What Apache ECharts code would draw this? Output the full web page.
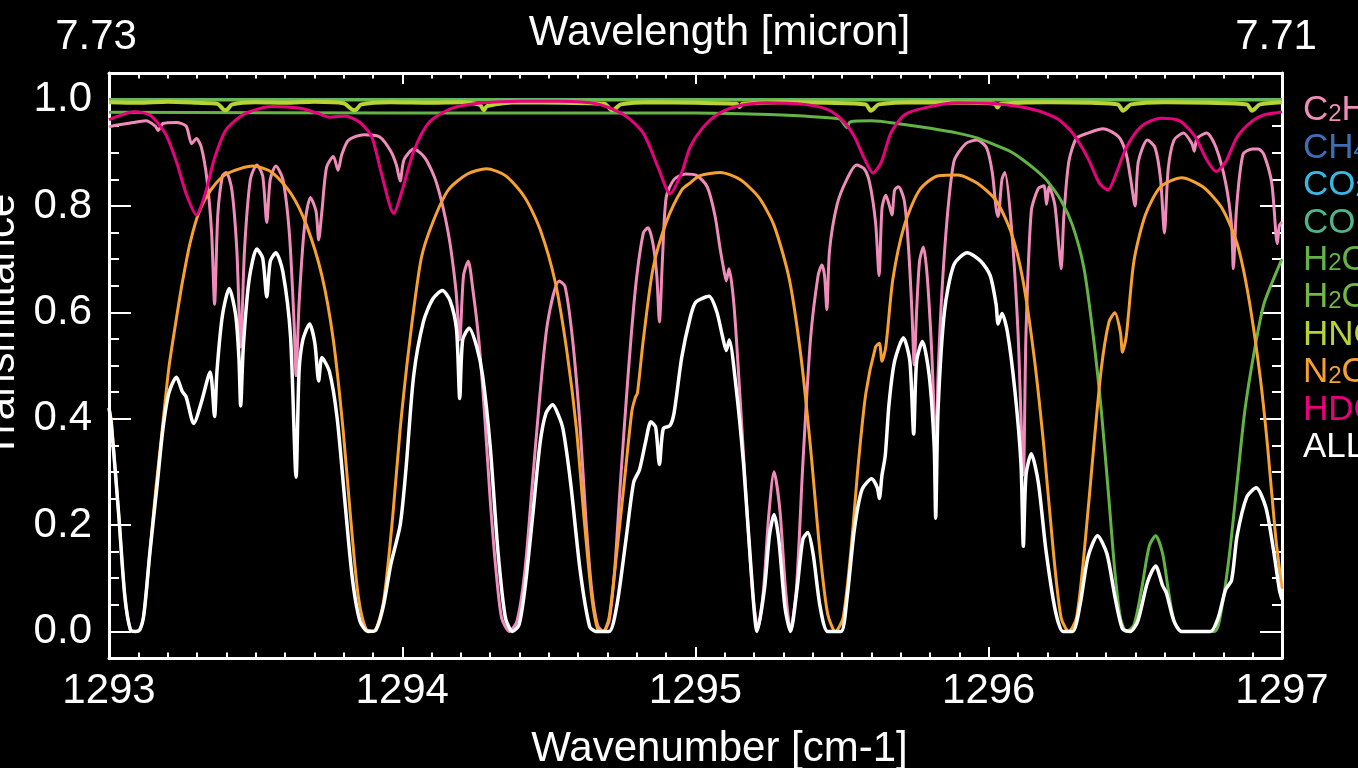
<!DOCTYPE html>
<html>
<head>
<meta charset="utf-8">
<title>Transmittance 1293–1297 cm-1</title>
<script src="https://cdn.jsdelivr.net/npm/echarts@6/dist/echarts.min.js"></script>
<style>
  html, body { margin: 0; padding: 0; background: #000; }
  #chart { width: 1358px; height: 768px; }
</style>
</head>
<body>
<div id="chart"></div>
<script>
// Species shown in the legend, top to bottom (also the drawing order).
const species = ['C2H6', 'CH4', 'CO2', 'CO', 'H2O', 'H2O2', 'HNO3', 'N2O', 'HDO', 'ALL'];
const speciesColors = ['#f08cba', '#3d6eb4', '#36b9e3', '#4fb38c', '#64b445', '#72b843', '#b9d336', '#f7a131', '#e8007f', '#ffffff'];

// Axis ticks
const yLabelValues = [0.0, 0.2, 0.4, 0.6, 0.8, 1.0];
const yMinorValues = [0.0, 0.05, 0.1, 0.15, 0.2, 0.25, 0.3, 0.35, 0.4, 0.45, 0.5, 0.55, 0.6, 0.65, 0.7, 0.75, 0.8, 0.85, 0.9, 0.95, 1.0];
const wavelengthEnds = { 1293: '{lo|7.73}', 1297: '{hi|7.71}' };

// Transmittance spectra: [wavenumber cm-1, transmittance]
const c2h6 = [
  [1293.000,0.948],[1293.008,0.950],[1293.073,0.956],[1293.126,0.960],[1293.158,0.950],[1293.167,0.942],
  [1293.184,0.955],[1293.230,0.957],[1293.263,0.950],[1293.282,0.917],[1293.298,0.927],[1293.315,0.910],
  [1293.334,0.850],[1293.350,0.749],[1293.360,0.615],[1293.371,0.783],[1293.387,0.857],[1293.400,0.863],
  [1293.419,0.830],[1293.436,0.716],[1293.449,0.535],[1293.462,0.716],[1293.482,0.850],[1293.504,0.877],
  [1293.524,0.857],[1293.538,0.769],[1293.550,0.850],[1293.569,0.875],[1293.593,0.850],[1293.615,0.749],
  [1293.631,0.582],[1293.638,0.481],[1293.648,0.615],[1293.667,0.763],[1293.687,0.816],[1293.706,0.790],
  [1293.715,0.736],[1293.726,0.790],[1293.742,0.873],[1293.765,0.893],[1293.781,0.867],[1293.794,0.897],
  [1293.817,0.924],[1293.869,0.934],[1293.922,0.930],[1293.961,0.903],[1293.980,0.877],[1293.993,0.847],
  [1294.006,0.887],[1294.039,0.907],[1294.078,0.890],[1294.117,0.843],[1294.157,0.749],[1294.183,0.642],
  [1294.196,0.548],[1294.209,0.669],[1294.225,0.696],[1294.241,0.642],[1294.261,0.548],[1294.280,0.414],
  [1294.300,0.247],[1294.320,0.113],[1294.339,0.025],[1294.365,0.000],[1294.391,0.019],[1294.418,0.113],
  [1294.444,0.280],[1294.470,0.448],[1294.496,0.582],[1294.535,0.659],[1294.555,0.649],[1294.581,0.548],
  [1294.607,0.381],[1294.626,0.213],[1294.646,0.079],[1294.666,0.012],[1294.685,0.000],[1294.705,0.019],
  [1294.724,0.113],[1294.744,0.280],[1294.770,0.481],[1294.796,0.649],[1294.822,0.749],[1294.838,0.759],
  [1294.855,0.729],[1294.868,0.669],[1294.877,0.582],[1294.887,0.696],[1294.900,0.816],[1294.927,0.850],
  [1294.966,0.860],[1295.005,0.857],[1295.040,0.836],[1295.066,0.783],[1295.085,0.716],[1295.098,0.676],
  [1295.105,0.659],[1295.114,0.682],[1295.131,0.615],[1295.151,0.448],[1295.177,0.213],[1295.196,0.066],
  [1295.213,0.005],[1295.232,0.079],[1295.249,0.213],[1295.268,0.300],[1295.288,0.227],[1295.307,0.079],
  [1295.324,0.002],[1295.344,0.079],[1295.366,0.314],[1295.392,0.548],[1295.418,0.669],[1295.431,0.689],
  [1295.440,0.669],[1295.448,0.605],[1295.457,0.716],[1295.483,0.803],[1295.516,0.850],[1295.549,0.877],
  [1295.575,0.870],[1295.594,0.843],[1295.614,0.769],[1295.626,0.669],[1295.636,0.796],[1295.649,0.820],
  [1295.660,0.803],[1295.670,0.783],[1295.679,0.830],[1295.692,0.836],[1295.712,0.810],[1295.727,0.716],
  [1295.738,0.602],[1295.746,0.501],[1295.754,0.602],[1295.764,0.696],[1295.777,0.723],[1295.790,0.669],
  [1295.806,0.520],[1295.814,0.400],[1295.819,0.260],[1295.827,0.480],[1295.850,0.720],[1295.881,0.883],
  [1295.921,0.917],[1295.960,0.924],[1295.992,0.910],[1296.012,0.863],[1296.025,0.796],[1296.032,0.780],
  [1296.045,0.850],[1296.055,0.863],[1296.077,0.763],[1296.100,0.560],[1296.118,0.294],[1296.127,0.560],
  [1296.145,0.790],[1296.169,0.833],[1296.188,0.838],[1296.197,0.803],[1296.206,0.836],[1296.225,0.803],
  [1296.238,0.730],[1296.247,0.682],[1296.256,0.780],[1296.273,0.883],[1296.299,0.927],[1296.338,0.937],
  [1296.390,0.945],[1296.443,0.930],[1296.469,0.897],[1296.484,0.850],[1296.499,0.800],[1296.510,0.883],
  [1296.541,0.924],[1296.567,0.910],[1296.586,0.850],[1296.599,0.749],[1296.612,0.870],[1296.632,0.924],
  [1296.664,0.937],[1296.693,0.917],[1296.701,0.903],[1296.710,0.927],[1296.743,0.937],[1296.775,0.910],
  [1296.808,0.843],[1296.828,0.763],[1296.834,0.682],[1296.845,0.796],[1296.867,0.897],[1296.899,0.907],
  [1296.919,0.907],[1296.938,0.897],[1296.965,0.843],[1296.984,0.729],[1296.991,0.763],[1297.000,0.770]
];

const ch4 = [[1293.0, 1.0], [1297.0, 1.0]];
const co2 = [[1293.0, 1.0], [1297.0, 1.0]];
const co = [[1293.0, 1.0], [1297.0, 1.0]];

const h2o = [
  [1293.000,0.976],[1294.000,0.975],[1295.000,0.975],[1295.250,0.972],[1295.490,0.964],[1295.505,0.955],
  [1295.516,0.947],[1295.527,0.958],[1295.600,0.960],[1295.699,0.954],[1295.800,0.946],[1295.894,0.937],
  [1295.960,0.928],[1296.025,0.914],[1296.075,0.902],[1296.116,0.887],[1296.160,0.868],[1296.195,0.850],
  [1296.247,0.810],[1296.286,0.763],[1296.325,0.682],[1296.358,0.548],[1296.384,0.414],[1296.410,0.247],
  [1296.430,0.113],[1296.449,0.025],[1296.469,0.000],[1296.495,0.012],[1296.521,0.079],[1296.547,0.160],
  [1296.569,0.180],[1296.593,0.146],[1296.612,0.079],[1296.632,0.019],[1296.658,0.000],[1296.769,0.000],
  [1296.795,0.046],[1296.821,0.146],[1296.847,0.280],[1296.873,0.414],[1296.906,0.528],[1296.938,0.615],
  [1296.991,0.689],[1297.000,0.700]
];

const h2o2 = [[1293.0, 0.999], [1297.0, 0.999]];

const hno3 = [
  [1293.000,0.995],[1293.100,0.994],[1293.200,0.996],[1293.300,0.994],[1293.370,0.992],[1293.395,0.980],
  [1293.405,0.982],[1293.420,0.991],[1293.500,0.995],[1293.600,0.994],[1293.700,0.996],[1293.800,0.993],
  [1293.835,0.980],[1293.845,0.982],[1293.860,0.991],[1293.960,0.995],[1294.100,0.994],[1294.200,0.995],
  [1294.265,0.990],[1294.278,0.980],[1294.290,0.988],[1294.400,0.995],[1294.550,0.994],[1294.690,0.992],
  [1294.715,0.980],[1294.725,0.982],[1294.745,0.991],[1294.850,0.995],[1295.000,0.994],[1295.140,0.992],
  [1295.150,0.986],[1295.160,0.992],[1295.300,0.995],[1295.450,0.994],[1295.580,0.991],[1295.598,0.979],
  [1295.608,0.983],[1295.625,0.991],[1295.750,0.995],[1295.900,0.994],[1296.020,0.992],[1296.030,0.985],
  [1296.040,0.992],[1296.200,0.995],[1296.350,0.994],[1296.440,0.991],[1296.458,0.979],[1296.468,0.983],
  [1296.485,0.991],[1296.600,0.995],[1296.750,0.994],[1296.880,0.991],[1296.898,0.979],[1296.908,0.983],
  [1296.925,0.991],[1297.000,0.995]
];

const n2o = [
  [1293.000,0.420],[1293.008,0.394],[1293.034,0.213],[1293.054,0.066],[1293.073,0.003],[1293.090,0.000],
  [1293.105,0.003],[1293.119,0.032],[1293.139,0.146],[1293.160,0.270],[1293.178,0.361],[1293.204,0.495],
  [1293.230,0.589],[1293.245,0.640],[1293.250,0.656],[1293.276,0.729],[1293.308,0.790],[1293.347,0.830],
  [1293.400,0.860],[1293.491,0.875],[1293.556,0.863],[1293.621,0.823],[1293.674,0.763],[1293.726,0.669],
  [1293.765,0.548],[1293.798,0.381],[1293.824,0.213],[1293.850,0.066],[1293.876,0.005],[1293.902,0.000],
  [1293.935,0.052],[1293.967,0.213],[1293.993,0.381],[1294.026,0.548],[1294.065,0.702],[1294.104,0.769],
  [1294.157,0.830],[1294.222,0.860],[1294.287,0.870],[1294.352,0.857],[1294.418,0.816],[1294.470,0.756],
  [1294.522,0.656],[1294.561,0.528],[1294.594,0.381],[1294.620,0.213],[1294.646,0.066],[1294.666,0.005],
  [1294.685,0.000],[1294.705,0.025],[1294.731,0.146],[1294.757,0.280],[1294.783,0.414],[1294.795,0.440],
  [1294.802,0.448],[1294.822,0.548],[1294.855,0.682],[1294.900,0.769],[1294.953,0.830],[1294.981,0.843],
  [1295.015,0.857],[1295.085,0.863],[1295.151,0.850],[1295.216,0.816],[1295.268,0.763],[1295.320,0.662],
  [1295.360,0.515],[1295.392,0.347],[1295.425,0.146],[1295.451,0.032],[1295.477,0.000],[1295.503,0.025],
  [1295.529,0.146],[1295.555,0.314],[1295.581,0.448],[1295.614,0.535],[1295.627,0.542],[1295.636,0.508],
  [1295.649,0.535],[1295.673,0.662],[1295.712,0.763],[1295.764,0.830],[1295.829,0.857],[1295.894,0.858],
  [1295.960,0.843],[1296.025,0.810],[1296.077,0.749],[1296.116,0.662],[1296.155,0.515],[1296.188,0.347],
  [1296.221,0.146],[1296.247,0.025],[1296.273,0.000],[1296.299,0.025],[1296.325,0.146],[1296.358,0.347],
  [1296.384,0.495],[1296.410,0.582],[1296.430,0.599],[1296.449,0.562],[1296.456,0.525],[1296.469,0.555],
  [1296.495,0.696],[1296.534,0.783],[1296.586,0.836],[1296.658,0.853],[1296.730,0.836],[1296.795,0.796],
  [1296.847,0.729],[1296.886,0.629],[1296.925,0.481],[1296.951,0.347],[1296.978,0.180],[1297.000,0.080]
];

const hdo = [
  [1293.000,0.962],[1293.021,0.967],[1293.086,0.977],[1293.139,0.971],[1293.191,0.937],[1293.230,0.883],
  [1293.263,0.823],[1293.298,0.783],[1293.328,0.823],[1293.360,0.890],[1293.400,0.944],[1293.465,0.974],
  [1293.556,0.987],[1293.648,0.984],[1293.713,0.974],[1293.752,0.967],[1293.804,0.969],[1293.856,0.957],
  [1293.896,0.930],[1293.928,0.863],[1293.971,0.786],[1294.000,0.830],[1294.039,0.903],[1294.091,0.957],
  [1294.170,0.984],[1294.274,0.994],[1294.404,0.997],[1294.535,0.997],[1294.665,0.992],[1294.757,0.971],
  [1294.822,0.937],[1294.874,0.870],[1294.913,0.823],[1294.953,0.863],[1294.981,0.910],[1295.020,0.944],
  [1295.072,0.971],[1295.138,0.987],[1295.242,0.994],[1295.372,0.991],[1295.451,0.981],[1295.503,0.960],
  [1295.542,0.930],[1295.575,0.890],[1295.605,0.862],[1295.634,0.883],[1295.666,0.937],[1295.712,0.971],
  [1295.777,0.984],[1295.894,0.994],[1296.025,0.992],[1296.155,0.981],[1296.234,0.964],[1296.286,0.937],
  [1296.338,0.890],[1296.377,0.843],[1296.406,0.830],[1296.436,0.863],[1296.469,0.910],[1296.521,0.950],
  [1296.586,0.965],[1296.651,0.960],[1296.704,0.930],[1296.743,0.887],[1296.775,0.865],[1296.808,0.883],
  [1296.847,0.930],[1296.899,0.960],[1296.938,0.971],[1296.991,0.976],[1297.000,0.977]
];

const all = [
  [1293.000,0.420],[1293.008,0.390],[1293.034,0.213],[1293.054,0.066],[1293.073,0.003],[1293.090,0.000],
  [1293.105,0.003],[1293.119,0.032],[1293.139,0.146],[1293.165,0.280],[1293.184,0.381],[1293.204,0.448],
  [1293.230,0.478],[1293.250,0.451],[1293.263,0.441],[1293.289,0.391],[1293.315,0.431],[1293.345,0.488],
  [1293.360,0.404],[1293.368,0.488],[1293.387,0.595],[1293.410,0.645],[1293.432,0.595],[1293.443,0.515],
  [1293.449,0.424],[1293.458,0.535],[1293.478,0.662],[1293.504,0.719],[1293.524,0.702],[1293.538,0.629],
  [1293.550,0.696],[1293.569,0.712],[1293.593,0.676],[1293.619,0.555],[1293.638,0.290],[1293.648,0.488],
  [1293.661,0.548],[1293.684,0.578],[1293.702,0.542],[1293.715,0.471],[1293.726,0.515],[1293.752,0.488],
  [1293.778,0.401],[1293.804,0.247],[1293.830,0.099],[1293.856,0.019],[1293.883,0.000],[1293.909,0.002],
  [1293.935,0.046],[1293.961,0.126],[1293.993,0.200],[1294.013,0.307],[1294.039,0.481],[1294.072,0.582],
  [1294.104,0.625],[1294.137,0.641],[1294.163,0.622],[1294.185,0.568],[1294.196,0.438],[1294.206,0.548],
  [1294.228,0.570],[1294.254,0.535],[1294.274,0.481],[1294.300,0.347],[1294.326,0.153],[1294.352,0.025],
  [1294.376,0.000],[1294.398,0.012],[1294.418,0.079],[1294.444,0.213],[1294.470,0.354],[1294.490,0.410],
  [1294.513,0.426],[1294.530,0.410],[1294.548,0.381],[1294.574,0.280],[1294.607,0.113],[1294.639,0.009],
  [1294.660,0.000],[1294.705,0.000],[1294.731,0.046],[1294.763,0.173],[1294.789,0.280],[1294.809,0.304],
  [1294.829,0.354],[1294.848,0.394],[1294.864,0.384],[1294.877,0.314],[1294.890,0.381],[1294.913,0.387],
  [1294.927,0.411],[1294.953,0.515],[1294.981,0.588],[1295.001,0.619],[1295.046,0.630],[1295.072,0.602],
  [1295.092,0.555],[1295.105,0.528],[1295.115,0.548],[1295.138,0.461],[1295.164,0.314],[1295.190,0.113],
  [1295.210,0.000],[1295.235,0.079],[1295.252,0.180],[1295.268,0.220],[1295.284,0.173],[1295.305,0.046],
  [1295.324,0.000],[1295.346,0.079],[1295.366,0.173],[1295.383,0.186],[1295.401,0.146],[1295.425,0.046],
  [1295.451,0.000],[1295.496,0.000],[1295.516,0.059],[1295.542,0.193],[1295.568,0.267],[1295.601,0.287],
  [1295.620,0.270],[1295.627,0.250],[1295.636,0.294],[1295.647,0.330],[1295.660,0.428],[1295.679,0.508],
  [1295.709,0.552],[1295.731,0.508],[1295.744,0.371],[1295.754,0.508],[1295.774,0.545],[1295.797,0.481],
  [1295.814,0.347],[1295.819,0.213],[1295.827,0.414],[1295.849,0.602],[1295.881,0.689],[1295.927,0.712],
  [1295.973,0.696],[1296.005,0.669],[1296.025,0.615],[1296.032,0.578],[1296.045,0.598],[1296.064,0.562],
  [1296.090,0.448],[1296.110,0.314],[1296.118,0.160],[1296.127,0.294],[1296.145,0.334],[1296.169,0.280],
  [1296.195,0.153],[1296.227,0.039],[1296.253,0.000],[1296.286,0.000],[1296.312,0.052],[1296.338,0.139],
  [1296.371,0.180],[1296.403,0.146],[1296.430,0.066],[1296.456,0.005],[1296.482,0.000],[1296.508,0.019],
  [1296.541,0.092],[1296.569,0.123],[1296.593,0.086],[1296.606,0.072],[1296.632,0.019],[1296.658,0.000],
  [1296.756,0.000],[1296.782,0.025],[1296.808,0.079],[1296.828,0.096],[1296.847,0.180],[1296.880,0.253],
  [1296.912,0.270],[1296.945,0.233],[1296.971,0.153],[1296.991,0.079],[1297.000,0.060]
];

const spectra = [c2h6, ch4, co2, co, h2o, h2o2, hno3, n2o, hdo, all];

const FONT = "'Liberation Sans', Arial, Helvetica, sans-serif";
const WHITE = '#ffffff';
const AXIS_FONT = 42;

// Chemical formulas with small subscript digits, as rich text
function formula(name) {
  return name.split('').map(ch => /[0-9]/.test(ch) ? '{s|' + ch + '}' : '{n|' + ch + '}').join('');
}

const legendData = species.map((name, i) => ({
  name: name,
  textStyle: {
    color: speciesColors[i],
    rich: {
      n: { color: speciesColors[i], fontSize: 35, fontFamily: FONT, lineHeight: 37 },
      s: { color: speciesColors[i], fontSize: 24, fontFamily: FONT, lineHeight: 37, verticalAlign: 'bottom', padding: [0, 0, 3, 0] }
    }
  }
}));

const frameLine = { show: true, onZero: false, lineStyle: { color: WHITE, width: 3 } };

function xAxisDef(position, labelCfg, nameCfg) {
  return Object.assign({
    type: 'value',
    position: position,
    min: 1293,
    max: 1297,
    interval: 1,
    axisLine: frameLine,
    axisTick: { show: true, inside: true, length: 11, lineStyle: { color: WHITE, width: 2 } },
    minorTick: { show: true, splitNumber: 10, length: 5.5, lineStyle: { color: WHITE, width: 2 } },
    splitLine: { show: false },
    minorSplitLine: { show: false },
    axisLabel: labelCfg,
    nameMoveOverlap: false,
    nameTextStyle: { color: WHITE, fontSize: AXIS_FONT, fontFamily: FONT, padding: [0, 0, 0, 48] }
  }, nameCfg);
}

function yAxisDef(position, values, tickLen, showLine, showLabels) {
  return {
    type: 'value',
    position: position,
    min: -0.05,
    max: 1.05,
    axisLine: showLine ? frameLine : { show: false },
    axisTick: { show: true, inside: true, length: tickLen, customValues: values, lineStyle: { color: WHITE, width: 2 } },
    splitLine: { show: false },
    axisLabel: showLabels ? {
      show: true, customValues: yLabelValues, color: WHITE, fontSize: AXIS_FONT, fontFamily: FONT, margin: 17,
      formatter: v => v.toFixed(1)
    } : { show: false }
  };
}

const chart = echarts.init(document.getElementById('chart'), null, { renderer: 'canvas' });

chart.setOption({
  backgroundColor: '#000000',
  animation: false,
  grid: { left: 109, right: 76, top: 73, bottom: 110, containLabel: false, outerBoundsMode: 'none' },
  xAxis: [
    xAxisDef('bottom',
      { show: true, color: WHITE, fontSize: AXIS_FONT, fontFamily: FONT, margin: 12, formatter: v => String(v) },
      { name: 'Wavenumber [cm-1]', nameLocation: 'middle', nameGap: 70 }),
    xAxisDef('top',
      { show: true, color: WHITE, fontSize: AXIS_FONT, fontFamily: FONT, margin: 15, customValues: [1293, 1297],
        formatter: v => wavelengthEnds[v] || '',
        rich: {
          lo: { color: WHITE, fontSize: AXIS_FONT, fontFamily: FONT, padding: [0, 26, 0, 0] },
          hi: { color: WHITE, fontSize: AXIS_FONT, fontFamily: FONT, padding: [0, 12, 0, 0] }
        } },
      { name: 'Wavelength [micron]', nameLocation: 'middle', nameGap: 19 })
  ],
  yAxis: [
    yAxisDef('left', yLabelValues, 22, true, true),
    yAxisDef('left', yMinorValues, 10, false, false),
    yAxisDef('right', yLabelValues, 22, true, false),
    yAxisDef('right', yMinorValues, 10, false, false)
  ],
  legend: {
    orient: 'vertical',
    left: 1293,
    top: 88,
    itemWidth: 0,
    itemHeight: 0,
    itemGap: 1.6,
    icon: 'rect',
    selectedMode: false,
    data: legendData,
    formatter: name => formula(name),
    textStyle: { fontSize: 35, fontFamily: FONT }
  },
  graphic: [{
    type: 'text',
    x: 2,
    y: 326,
    rotation: Math.PI / 2,
    style: { text: 'Transmittance', fill: WHITE, font: AXIS_FONT + 'px ' + FONT, align: 'center', verticalAlign: 'middle' }
  }],
  series: species.map((name, i) => ({
    name: name,
    type: 'line',
    xAxisIndex: 0,
    yAxisIndex: 0,
    data: spectra[i],
    showSymbol: false,
    symbol: 'none',
    smooth: 0.25,
    clip: true,
    color: speciesColors[i],
    lineStyle: { color: speciesColors[i], width: name === 'ALL' ? 3.5 : (name === 'HNO3' ? 4 : 3) },
    emphasis: { disabled: true }
  }))
});
</script>
</body>
</html>
